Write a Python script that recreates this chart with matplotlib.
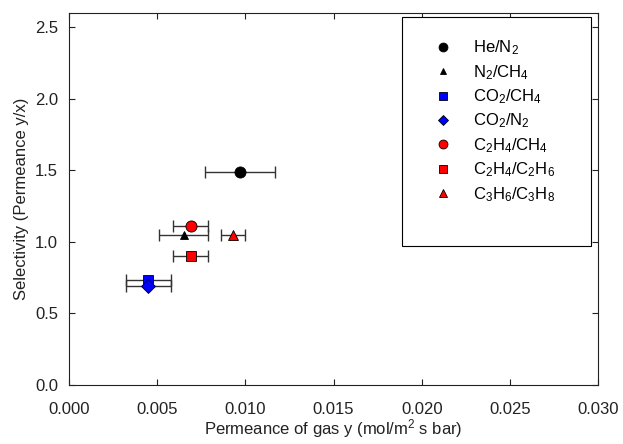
import numpy as np
import matplotlib
matplotlib.use("Agg")
import matplotlib.pyplot as plt
from matplotlib.lines import Line2D

plt.rcParams['font.family'] = ['Liberation Sans', 'DejaVu Sans']
plt.rcParams['mathtext.fontset'] = 'custom'
plt.rcParams['mathtext.rm'] = 'Liberation Sans'
plt.rcParams['mathtext.default'] = 'regular'

# gas pairs, permeance of gas y, selectivity, x error
labels = [r'He/N$_2$', r'N$_2$/CH$_4$', r'CO$_2$/CH$_4$', r'CO$_2$/N$_2$',
          r'C$_2$H$_4$/CH$_4$', r'C$_2$H$_4$/C$_2$H$_6$', r'C$_3$H$_6$/C$_3$H$_8$']
permeance = [0.0097, 0.0065, 0.0045, 0.0045, 0.0069, 0.0069, 0.0093]
selectivity = [1.49, 1.05, 0.73, 0.69, 1.11, 0.90, 1.05]
perm_err = [0.0020, 0.0014, 0.0013, 0.0013, 0.0010, 0.0010, 0.0007]
colors = ['black', 'black', '#0000ff', '#0000ff', '#ff0000', '#ff0000', '#ff0000']
markers = ['o', '^', 's', 'D', 'o', 's', '^']
sizes = [8, 6, 7, 7, 8, 7, 7.5]

fig = plt.figure(figsize=(6.23, 4.44), dpi=100)
ax = fig.add_axes([0.111, 0.133, 0.849, 0.838])

handles = []
for i in range(len(labels)):
    ax.errorbar(permeance[i], selectivity[i], xerr=perm_err[i], fmt='none',
                ecolor='#333333', elinewidth=1, capsize=4, capthick=1, zorder=2)
    h, = ax.plot(permeance[i], selectivity[i], linestyle='none', marker=markers[i],
                 markersize=sizes[i], markerfacecolor=colors[i], markeredgecolor='black',
                 markeredgewidth=0.6, zorder=3)
    handles.append(h)

ax.set_xlim(0, 0.030)
ax.set_ylim(0, 2.6)
ax.set_xticks(np.arange(0, 0.0301, 0.005))
ax.set_yticks(np.arange(0, 2.51, 0.5))
ax.xaxis.set_major_formatter(matplotlib.ticker.FormatStrFormatter('%.3f'))
ax.yaxis.set_major_formatter(matplotlib.ticker.FormatStrFormatter('%.1f'))
ax.tick_params(direction='in', top=True, right=True, length=4, width=0.8,
               labelsize=12, colors='#222222')
ax.tick_params(axis='x', pad=12)
ax.tick_params(axis='y', pad=8)
for sp in ax.spines.values():
    sp.set_linewidth(0.8)
    sp.set_color('#222222')

ax.set_xlabel('Permeance of gas y (mol/m$^2$ s bar)', fontsize=12, color='#222222',
              labelpad=0.5)
ax.set_ylabel('Selectivity (Permeance y/x)', fontsize=12, color='#222222')

# blank last row keeps the extra space at the bottom of the box
blank = Line2D([], [], linestyle='none')
leg = ax.legend(handles + [blank], labels + [' '], loc='upper left',
                bbox_to_anchor=(0.63, 0.3, 0.357, 0.689), mode='expand', fontsize=12,
                frameon=True, fancybox=False, edgecolor='black', framealpha=1,
                labelspacing=0.34, borderpad=1.3, handlelength=2.3,
                handletextpad=0.64, borderaxespad=0, markerscale=0.8)
leg.get_frame().set_linewidth(0.8)
leg.set_zorder(5)

fig.savefig('out.png', dpi=100)
